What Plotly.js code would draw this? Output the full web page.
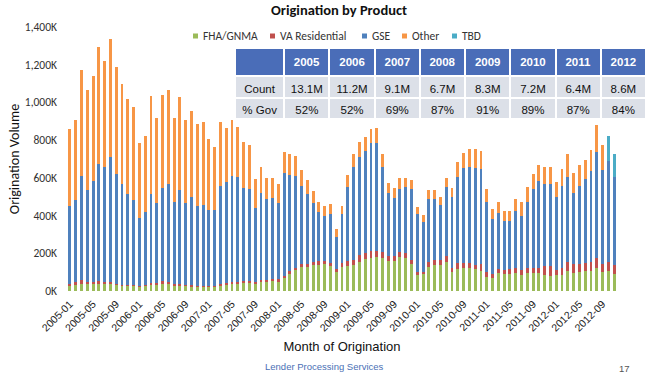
<!DOCTYPE html>
<html>
<head>
<meta charset="utf-8">
<script src="https://cdn.plot.ly/plotly-3.0.1.min.js"></script>
<style>html,body{margin:0;padding:0;background:#fff}#chart{width:650px;height:379px}</style>
</head>
<body>
<div id="chart"></div>
<script>
// ---------- DATA (values in thousands of loans) ----------
const months = [
 "2005-01","2005-02","2005-03","2005-04","2005-05","2005-06","2005-07","2005-08","2005-09","2005-10","2005-11","2005-12",
 "2006-01","2006-02","2006-03","2006-04","2006-05","2006-06","2006-07","2006-08","2006-09","2006-10","2006-11","2006-12",
 "2007-01","2007-02","2007-03","2007-04","2007-05","2007-06","2007-07","2007-08","2007-09","2007-10","2007-11","2007-12",
 "2008-01","2008-02","2008-03","2008-04","2008-05","2008-06","2008-07","2008-08","2008-09","2008-10","2008-11","2008-12",
 "2009-01","2009-02","2009-03","2009-04","2009-05","2009-06","2009-07","2009-08","2009-09","2009-10","2009-11","2009-12",
 "2010-01","2010-02","2010-03","2010-04","2010-05","2010-06","2010-07","2010-08","2010-09","2010-10","2010-11","2010-12",
 "2011-01","2011-02","2011-03","2011-04","2011-05","2011-06","2011-07","2011-08","2011-09","2011-10","2011-11","2011-12",
 "2012-01","2012-02","2012-03","2012-04","2012-05","2012-06","2012-07","2012-08","2012-09","2012-10","2012-11"
];
const fhaGnma = [28,32,39,35,37,39,35,35,30,27,27,25, 21,25,34,32,37,37,28,28,27,23,21,19,
 19,19,28,30,39,39,42,44,37,48,50,51, 50,67,89,112,127,127,136,140,143,133,103,126,
 135,138,156,170,177,179,175,159,161,179,177,142, 87,88,127,140,136,156,99,117,122,124,115,108,
 76,67,94,90,92,96,87,94,94,94,85,80, 87,85,108,94,103,104,108,122,103,108,92];
const vaResidential = [11,14,18,15,13,14,11,11,9,7,7,7, 7,7,10,10,14,13,9,11,7,7,7,9,
 9,9,11,11,11,11,11,11,13,10,8,11, 12,14,17,12,18,18,18,18,18,14,12,21,
 24,28,35,34,34,32,32,27,27,26,25,23, 16,15,25,25,29,30,25,32,27,25,21,34,
 23,21,21,22,23,24,25,30,30,30,45,50, 25,39,48,49,40,46,44,55,42,48,46];
const gse = [412,434,554,486,534,621,612,662,579,532,481,448, 361,387,469,424,496,520,436,494,435,466,423,430,
 402,400,520,536,561,552,494,487,389,461,429,430, 404,546,510,488,413,370,315,263,239,262,174,260,
 393,489,519,539,575,575,450,336,306,338,348,375, 306,265,335,322,292,363,373,458,502,506,515,504,
 374,293,297,261,255,303,288,349,416,457,440,435, 385,435,446,376,413,445,485,559,498,531,469];
const other = [409,426,563,531,556,622,560,630,571,533,503,497, 395,401,519,453,494,494,442,495,439,456,436,436,
 375,335,335,287,295,269,241,230,154,136,110,107, 99,111,111,103,83,74,60,51,51,53,38,44,
 62,72,81,73,74,78,70,53,53,55,48,49, 39,34,46,46,41,48,48,76,81,100,103,99,
 70,53,62,52,55,66,71,76,83,88,90,90, 80,87,122,106,113,101,110,142,132,0,0];
const tbdMonths = ["2012-10","2012-11"];
const tbd = [134,120];

const seriesNames = ["FHA/GNMA","VA Residential","GSE","Other","TBD"];
const seriesColors = ["#9BBB59","#C0504D","#4F81BD","#F79646","#4BACC6"];

const xTickLabels = ["2005-01","2005-05","2005-09","2006-01","2006-05","2006-09","2007-01","2007-05","2007-09",
 "2008-01","2008-05","2008-09","2009-01","2009-05","2009-09","2010-01","2010-05","2010-09",
 "2011-01","2011-05","2011-09","2012-01","2012-05","2012-09"];
const yTickVals = [0,200,400,600,800,1000,1200,1400];
const yTickText = ["0K","200K","400K","600K","800K","1,000K","1,200K","1,400K"];

const tableYears = ["2005","2006","2007","2008","2009","2010","2011","2012"];
const tableRowLabels = ["Count","%\u00a0Gov"];
const tableCount = ["13.1M","11.2M","9.1M","6.7M","8.3M","7.2M","6.4M","8.6M"];
const tableGov = ["52%","52%","69%","87%","91%","89%","87%","84%"];

// ---------- LAYOUT HELPERS ----------
const W = 650, H = 379, ML = 67, MR = 4, MT = 27, MB = 88;
const PW = W - ML - MR, PH = H - MT - MB;
const px = x => (x - ML) / PW;
const py = y => (H - MB - y) / PH;

const calib = "Carlito, Lato, sans-serif";
const arial = "Liberation Sans, Arial, sans-serif";

const seriesY = [fhaGnma, vaResidential, gse, other];
const traces = seriesY.map((vals, i) => ({
  type: "bar", name: seriesNames[i], x: months, y: vals,
  marker: {color: seriesColors[i], line: {width: 0}},
  hoverinfo: "x+y+name", showlegend: false
}));
traces.push({type: "bar", name: seriesNames[4], x: tbdMonths, y: tbd,
  marker: {color: seriesColors[4], line: {width: 0}}, showlegend: false});

traces.push({
  type: "table",
  domain: {x: [px(235), 1], y: [py(118), py(48)]},
  columnwidth: [49,45,45,45,45,45,45,45,45],
  header: {
    values: [""].concat(tableYears.map(y => "<b>" + y + "</b>")),
    fill: {color: "#4A6DB8"}, line: {color: "#ffffff", width: 2},
    font: {family: arial, size: 11.5, color: "#ffffff"}, align: "center", height: 21
  },
  cells: {
    values: [tableRowLabels].concat(tableYears.map((y, i) => [tableCount[i], tableGov[i]])),
    fill: {color: "#DCE0E8"}, line: {color: "#ffffff", width: 2},
    font: {family: arial, size: 11.5, color: "#111111"}, align: "center", height: 21.5
  }
});

// custom compact legend
const legendX = [193, 270, 362, 402, 452];
const shapes = seriesNames.map((n, i) => ({
  type: "rect", xref: "paper", yref: "paper",
  x0: px(legendX[i]), x1: px(legendX[i] + 5), y0: py(38.5), y1: py(33.5),
  fillcolor: seriesColors[i], line: {width: 0}
}));
const annotations = seriesNames.map((n, i) => ({
  text: n, xref: "paper", yref: "paper", x: px(legendX[i] + 8), y: py(36),
  xanchor: "left", yanchor: "middle", showarrow: false,
  font: {family: calib, size: 11.5, color: "#333333"}
}));
annotations.push({text: "Lender Processing Services", xref: "paper", yref: "paper",
  x: px(324), y: py(366), xanchor: "center", yanchor: "middle", showarrow: false,
  font: {family: arial, size: 9.5, color: "#4A6FB5"}});
annotations.push({text: "17", xref: "paper", yref: "paper",
  x: px(624), y: py(368), xanchor: "center", yanchor: "middle", showarrow: false,
  font: {family: arial, size: 9.5, color: "#555555"}});

const layout = {
  width: W, height: H,
  margin: {l: ML, r: MR, t: MT, b: MB, pad: 0},
  paper_bgcolor: "#ffffff", plot_bgcolor: "#ffffff",
  barmode: "stack", bargap: 0.5,
  showlegend: false,
  title: {text: "<b>Origination by Product</b>", x: px(339), xref: "paper", xanchor: "center",
    y: 1 - 10 / H, yref: "container", yanchor: "middle",
    font: {family: calib, size: 14.5, color: "#111111"}},
  xaxis: {
    type: "category", domain: [0, 550 / PW], range: [-0.5, 94.5],
    categoryorder: "array", categoryarray: months,
    tickmode: "array", tickvals: xTickLabels, ticktext: xTickLabels, tickangle: -45,
    tickfont: {family: arial, size: 10.5, color: "#222222"},
    showgrid: false, zeroline: false, showline: false, ticks: "", ticklabelstandoff: 4,
    title: {text: "Month of Origination", font: {family: arial, size: 13, color: "#111111"}, standoff: 9},
    fixedrange: true
  },
  yaxis: {
    range: [0, 1400], tickmode: "array", tickvals: yTickVals, ticktext: yTickText,
    tickfont: {family: calib, size: 11.5, color: "#333333"},
    showgrid: false, zeroline: false, showline: false, ticks: "", ticklabelstandoff: 9,
    title: {text: "Origination Volume", font: {family: calib, size: 14, color: "#111111"}, standoff: 1},
    fixedrange: true
  },
  shapes: shapes, annotations: annotations
};

Plotly.newPlot("chart", traces, layout, {staticPlot: true, displayModeBar: false});
</script>
</body>
</html>
